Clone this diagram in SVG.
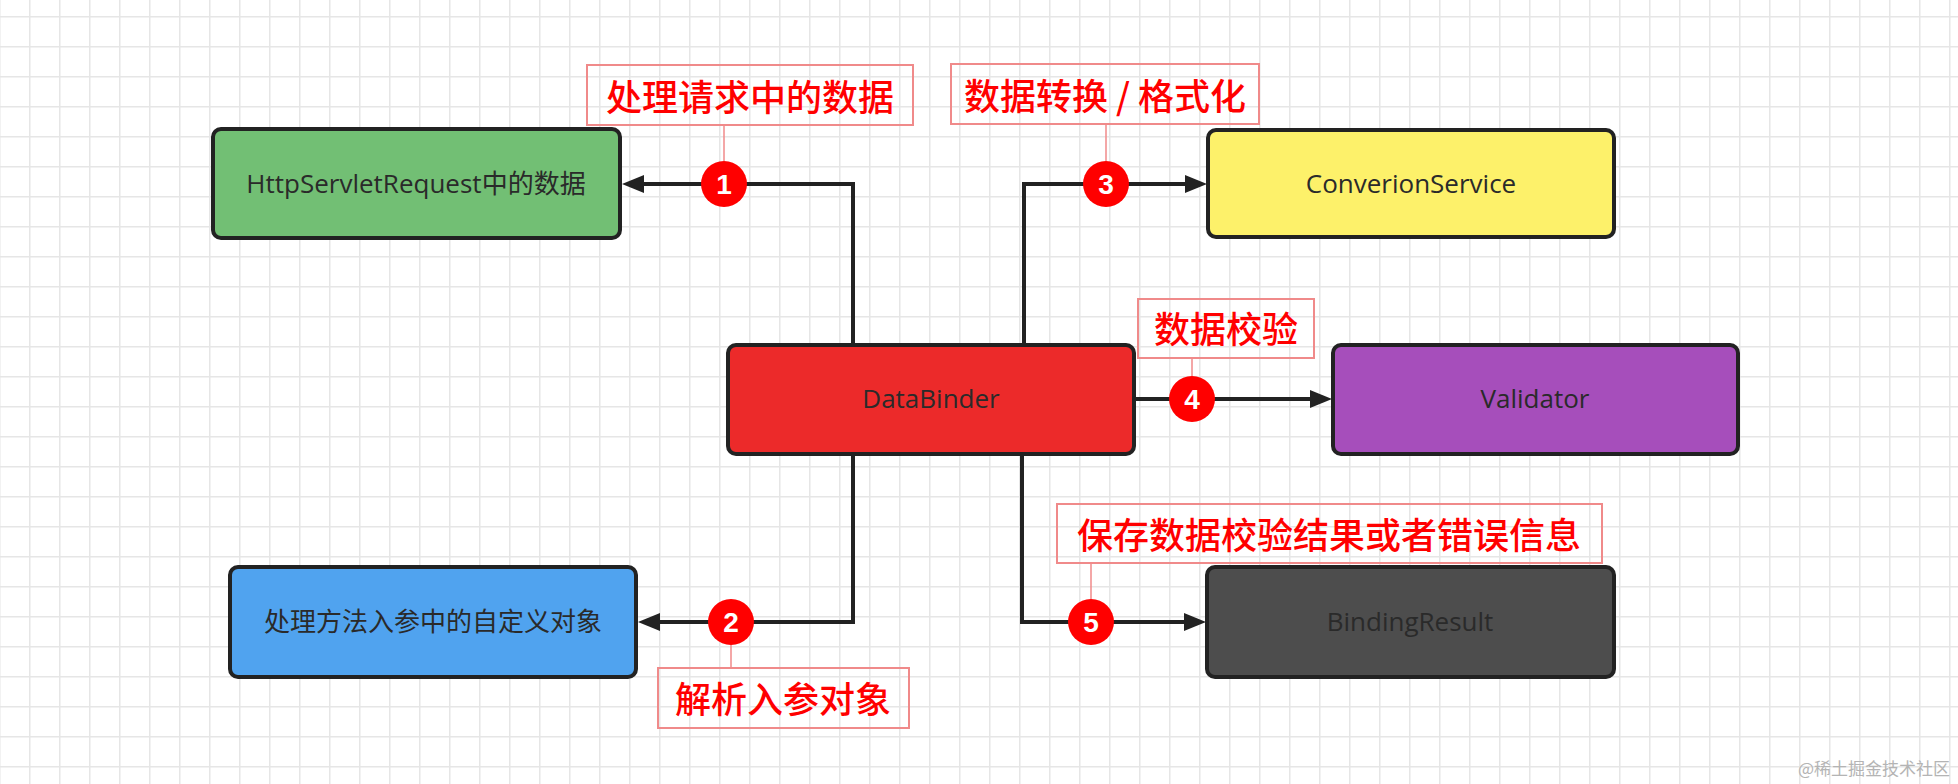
<svg xmlns="http://www.w3.org/2000/svg" width="1958" height="784" viewBox="0 0 1958 784">
<style>
.node rect{stroke:#222;stroke-width:4}
.ntext{font-family:"Open Sans","Noto Sans CJK SC",sans-serif;font-size:26px;fill:#2a2a2a;text-anchor:middle}
.lbox{fill:none;stroke:#f08a8a;stroke-width:2}
.ltext{font-family:"Noto Sans CJK SC",sans-serif;font-weight:500;font-size:36px;fill:#f00;text-anchor:middle}
.lline{stroke:#f08a8a;stroke-width:1.5;fill:none}
.conn{stroke:#222;stroke-width:4;fill:none;marker-end:url(#arr)}
.badge circle{fill:#f00}
.badge text{font-family:"Liberation Sans",Arial,sans-serif;font-weight:bold;font-size:28px;fill:#fff;text-anchor:middle}
</style>
<defs>
<pattern id="grid" patternUnits="userSpaceOnUse" x="29" y="16" width="30" height="30">
<path d="M0.75 0V30M0 0.75H30" stroke="#e6e6e6" stroke-width="1.5" fill="none"/>
</pattern>
<marker id="arr" markerUnits="userSpaceOnUse" markerWidth="24" markerHeight="20" refX="12" refY="10" orient="auto">
<path d="M0,1 L22,10 L0,19 Z" fill="#222"/>
</marker>
</defs>
<rect width="1958" height="784" fill="#fff"/>
<rect width="1958" height="784" fill="url(#grid)"/>

<g id="connectors">
<path class="conn" d="M853 345V184H632"/>
<path class="conn" d="M853 454V622H648"/>
<path class="conn" d="M1024 345V184H1197"/>
<path class="conn" d="M1134 399H1322"/>
<path class="conn" d="M1022 454V622H1196"/>
</g>

<g id="node-http" class="node"><rect x="213" y="129" width="407" height="109" rx="8" fill="#72bf74"/><text class="ntext" x="416" y="193">HttpServletRequest中的数据</text></g>
<g id="node-conversion" class="node"><rect x="1208" y="130" width="406" height="107" rx="8" fill="#fdf16a"/><text class="ntext" x="1411" y="193">ConverionService</text></g>
<g id="node-databinder" class="node"><rect x="728" y="345" width="406" height="109" rx="8" fill="#ec2a2a"/><text class="ntext" x="931" y="408">DataBinder</text></g>
<g id="node-validator" class="node"><rect x="1333" y="345" width="405" height="109" rx="8" fill="#a64ebb"/><text class="ntext" x="1535" y="408">Validator</text></g>
<g id="node-custom" class="node"><rect x="230" y="567" width="406" height="110" rx="8" fill="#50a3ef"/><text class="ntext" x="433" y="631">处理方法入参中的自定义对象</text></g>
<g id="node-bindingresult" class="node"><rect x="1207" y="567" width="407" height="110" rx="8" fill="#4d4d4d"/><text class="ntext" x="1410" y="631">BindingResult</text></g>

<g id="label-1"><rect class="lbox" x="587" y="65" width="326" height="60"/><text class="ltext" x="750" y="111">处理请求中的数据</text><path class="lline" d="M724 125V161"/></g>
<g id="label-3"><rect class="lbox" x="951" y="64" width="308" height="60"/><text class="ltext" x="1105" y="110">数据转换 / 格式化</text><path class="lline" d="M1106 124V161"/></g>
<g id="label-4"><rect class="lbox" x="1138" y="299" width="176" height="59"/><text class="ltext" x="1226" y="343">数据校验</text><path class="lline" d="M1192 358V376"/></g>
<g id="label-2"><rect class="lbox" x="658" y="668" width="251" height="60"/><text class="ltext" x="783" y="713">解析入参对象</text><path class="lline" d="M731 645V668"/></g>
<g id="label-5"><rect class="lbox" x="1057" y="504" width="545" height="59"/><text class="ltext" x="1329" y="549">保存数据校验结果或者错误信息</text><path class="lline" d="M1091 563V599"/></g>

<g id="badge-1" class="badge"><circle cx="724" cy="184" r="23"/><text x="724" y="194">1</text></g>
<g id="badge-2" class="badge"><circle cx="731" cy="622" r="23"/><text x="731" y="632">2</text></g>
<g id="badge-3" class="badge"><circle cx="1106" cy="184" r="23"/><text x="1106" y="194">3</text></g>
<g id="badge-4" class="badge"><circle cx="1192" cy="399" r="23"/><text x="1192" y="409">4</text></g>
<g id="badge-5" class="badge"><circle cx="1091" cy="622" r="23"/><text x="1091" y="632">5</text></g>

<text x="1950" y="775" font-family="Noto Sans CJK SC,sans-serif" font-size="17" fill="#b4b4b4" text-anchor="end">@稀土掘金技术社区</text>
</svg>
